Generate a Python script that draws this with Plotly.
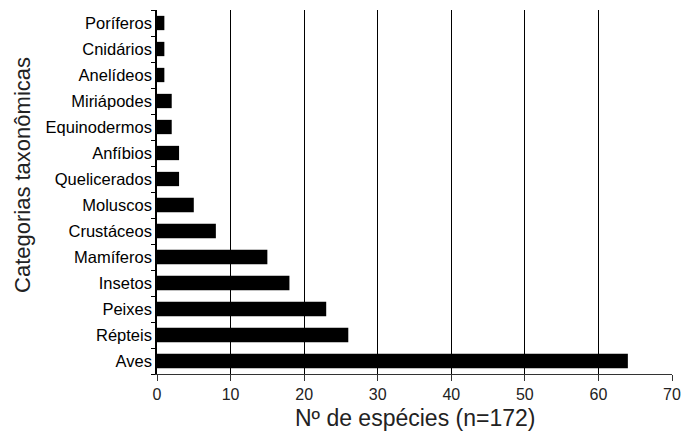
import plotly.graph_objects as go

categories = ["Poríferos", "Cnidários", "Anelídeos", "Miriápodes", "Equinodermos",
              "Anfíbios", "Quelicerados", "Moluscos", "Crustáceos", "Mamíferos",
              "Insetos", "Peixes", "Répteis", "Aves"]
species = [1, 1, 1, 2, 2, 3, 3, 5, 8, 15, 18, 23, 26, 64]
x_ticks = [0, 10, 20, 30, 40, 50, 60, 70]

fig = go.Figure(go.Bar(
    y=categories, x=species, orientation="h",
    marker=dict(color="black", line=dict(width=0)),
    width=0.55,
))

regular = "Liberation Sans, Arial, sans-serif"
# page body has an 8px margin, so the figure is sized/offset to compensate
fig.update_layout(
    width=688, height=427,
    margin=dict(l=149, r=24, t=2, b=61),
    paper_bgcolor="white", plot_bgcolor="white",
    showlegend=False,
    font=dict(family=regular, color="black", size=15),
    xaxis=dict(
        range=[0, 70], tickvals=x_ticks, showgrid=True, gridcolor="black", gridwidth=1,
        showline=True, linecolor="#333", linewidth=1, ticks="outside", ticklen=6,
        tickcolor="#333", zeroline=False, automargin=False,
        tickfont=dict(size=16, color="#222", family=regular),
    ),
    yaxis=dict(
        categoryorder="array", categoryarray=categories[::-1],
        range=[-0.5, 13.5], tickson="boundaries", ticks="outside", ticklen=4,
        tickcolor="black", showline=True, linecolor="black", linewidth=1.5,
        showgrid=False, automargin=False,
        tickfont=dict(size=16.5, color="black", family=regular),
    ),
    annotations=[
        dict(text="Nº de espécies (n=172)", xref="paper", yref="paper",
             x=0.5, y=-0.121, xanchor="center", yanchor="middle", showarrow=False,
             font=dict(size=23, color="#222", family=regular)),
        dict(text="Categorias taxonômicas", xref="paper", yref="paper",
             x=-0.260, y=0.547, xanchor="center", yanchor="middle", showarrow=False,
             textangle=-90, font=dict(size=22, color="#222", family=regular)),
    ],
)

fig.write_html("out.html")
